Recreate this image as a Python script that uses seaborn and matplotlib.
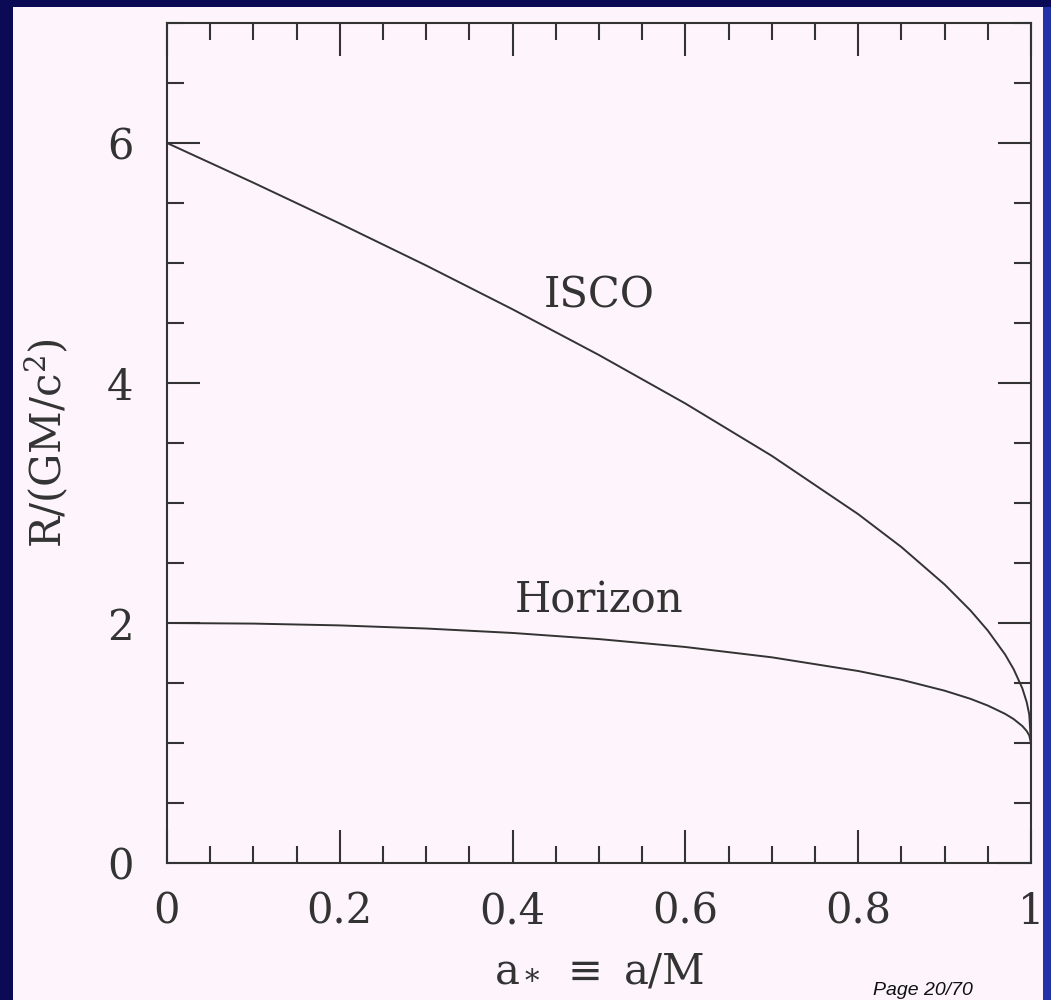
import matplotlib
matplotlib.use("Agg")
import matplotlib.pyplot as plt
import seaborn as sns
import pandas as pd
from matplotlib.patches import Rectangle
from matplotlib.ticker import MultipleLocator

# Spin values
spin = [0.0, 0.1, 0.2, 0.3, 0.4, 0.5, 0.6, 0.7, 0.8, 0.85, 0.9, 0.93,
        0.95, 0.97, 0.98, 0.99, 0.995, 0.998, 1.0]
# ISCO radius (GM/c^2)
isco = [6.0, 5.669, 5.329, 4.979, 4.614, 4.233, 3.829, 3.393, 2.907, 2.633,
        2.321, 2.104, 1.937, 1.738, 1.614, 1.455, 1.341, 1.237, 1.0]
# Horizon radius (GM/c^2)
horizon = [2.0, 1.995, 1.980, 1.954, 1.917, 1.866, 1.800, 1.714, 1.600, 1.527,
           1.436, 1.368, 1.312, 1.243, 1.199, 1.141, 1.100, 1.063, 1.0]

curve_labels = ["ISCO", "Horizon"]
x_ticklabels = ["0", "0.2", "0.4", "0.6", "0.8", "1"]
y_ticklabels = ["0", "2", "4", "6"]

df = pd.DataFrame({
    "a": spin * 2,
    "R": isco + horizon,
    "curve": [curve_labels[0]] * len(spin) + [curve_labels[1]] * len(spin),
})

sns.set_theme(style="ticks")
plt.rcParams["font.family"] = ["DejaVu Serif"]
plt.rcParams["mathtext.fontset"] = "dejavuserif"
plt.rcParams["mathtext.default"] = "regular"

W, H = 1051, 1000
fig = plt.figure(figsize=(W / 100, H / 100), dpi=100)
fig.patch.set_facecolor("#fdf5fb")

# Slide border bands
fig.add_artist(Rectangle((0, 0), 13 / W, 1, transform=fig.transFigure,
                         facecolor="#0b0b55", edgecolor="none", zorder=0))
fig.add_artist(Rectangle((0, 1 - 7 / H), 1, 7 / H, transform=fig.transFigure,
                         facecolor="#0b0b55", edgecolor="none", zorder=0))
fig.add_artist(Rectangle((1043 / W, 0), 1 - 1043 / W, 1 - 7 / H, transform=fig.transFigure,
                         facecolor="#2233a8", edgecolor="none", zorder=0))

ax = fig.add_axes([167 / W, 1 - 863 / H, (1031 - 167) / W, (863 - 23) / H])
ax.set_facecolor("#fdf5fb")

sns.lineplot(data=df, x="a", y="R", hue="curve", palette=["#333333", "#333333"],
             linewidth=1.4, legend=False, ax=ax, sort=True)

ax.set_xlim(0, 1)
ax.set_ylim(0, 7)

ax.xaxis.set_major_locator(MultipleLocator(0.2))
ax.xaxis.set_minor_locator(MultipleLocator(0.05))
ax.yaxis.set_major_locator(MultipleLocator(2))
ax.yaxis.set_minor_locator(MultipleLocator(0.5))
ax.set_xticks([0, 0.2, 0.4, 0.6, 0.8, 1.0])
ax.set_xticklabels(x_ticklabels)
ax.set_yticks([0, 2, 4, 6])
ax.set_yticklabels(y_ticklabels)

ax.tick_params(which="both", direction="in", top=True, right=True,
               color="#333333", width=1.5, labelsize=30, labelcolor="#333333")
ax.tick_params(which="major", length=24)
ax.tick_params(which="minor", length=12)
ax.tick_params(axis="x", which="major", pad=20)
ax.tick_params(axis="y", which="major", pad=24)

for sp in ax.spines.values():
    sp.set_visible(True)
    sp.set_color("#333333")
    sp.set_linewidth(1.5)

ax.set_xlabel(r"a$_*$ $\equiv$ a/M", fontsize=30, color="#333333", labelpad=12)
ax.set_ylabel(r"R/(GM/c$^2$)", fontsize=30, color="#333333", labelpad=26)

ax.text(0.50, 4.73, curve_labels[0], fontsize=30, color="#333333", ha="center", va="center")
ax.text(0.50, 2.19, curve_labels[1], fontsize=30, color="#333333", ha="center", va="center")

fig.text(873 / W, 1 - 982 / H, "Page 20/70", fontsize=14, style="italic",
         family=["Liberation Sans", "DejaVu Sans"], color="#111111", ha="left", va="top")

fig.savefig("out.png", dpi=100, facecolor=fig.get_facecolor())
